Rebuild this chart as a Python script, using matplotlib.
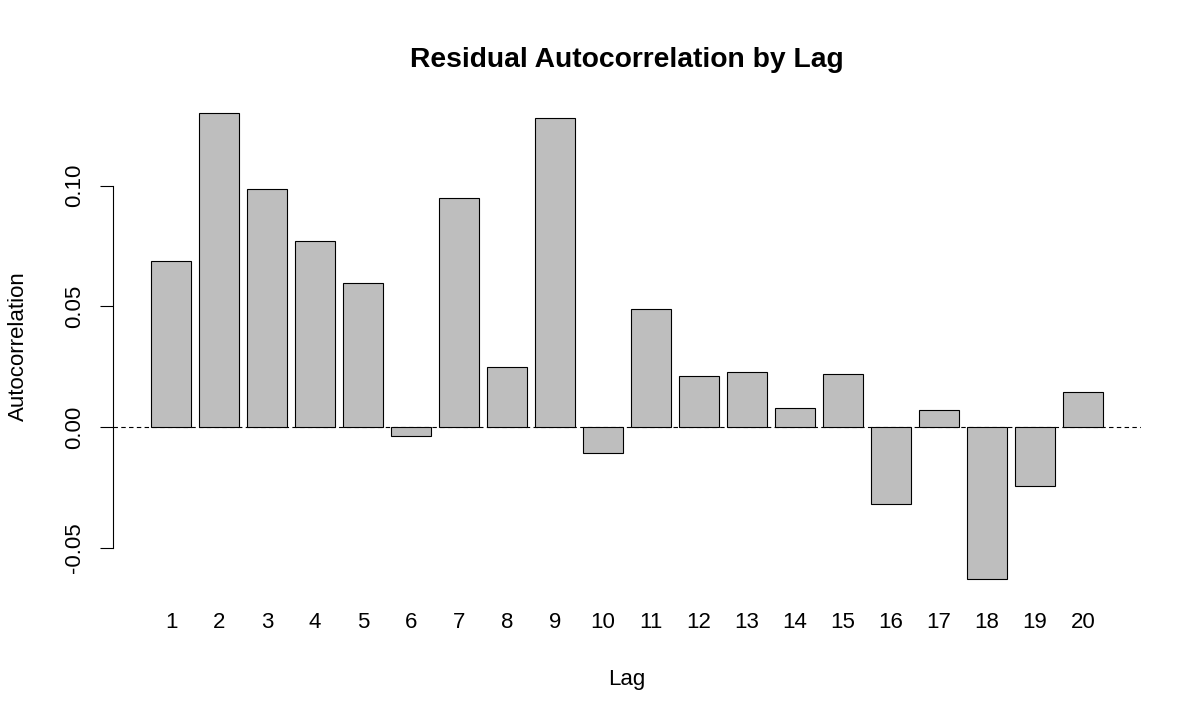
import numpy as np
import matplotlib
matplotlib.use('Agg')
import matplotlib.pyplot as plt

plt.rcParams['font.family'] = ['Liberation Sans', 'DejaVu Sans']

lags = list(range(1, 21))
acf = [0.0689, 0.1303, 0.0988, 0.0772, 0.0598, -0.0037, 0.0950, 0.0249, 0.1282, -0.0108,
       0.0490, 0.0212, 0.0228, 0.0079, 0.0220, -0.0320, 0.0071, -0.0631, -0.0245, 0.0145]
yticks = [-0.05, 0.00, 0.05, 0.10]

W, H = 1200, 720
fig = plt.figure(figsize=(W / 100, H / 100), dpi=100)
ax = fig.add_axes([113 / W, 1 - 598 / H, 1028 / W, 504 / H])

# R barplot geometry: width 1, space 0.2
x = 0.2 + np.arange(len(lags)) * 1.2 + 0.5
ax.bar(x, acf, width=1.0, color='#bebebe', edgecolor='black', linewidth=0.8, zorder=2)
ax.axhline(0, color='black', lw=0.8, ls=(0, (4, 3)), zorder=1)

lo, hi = min(min(acf), 0), max(acf)
pad = 0.04 * (hi - lo)
ax.set_ylim(lo - pad, hi + pad)
ax.set_xlim(0.2 - 0.952, 24.0 + 0.952)

for s in ['top', 'right', 'bottom']:
    ax.spines[s].set_visible(False)
ax.spines['left'].set_bounds(yticks[0], yticks[-1])
ax.spines['left'].set_linewidth(0.8)
ax.set_yticks(yticks)
ax.set_yticklabels(['-0.05', '0.00', '0.05', '0.10'], rotation=90, va='center', fontsize=16)
ax.tick_params(axis='y', length=9.4, width=0.8, pad=11)
ax.set_xticks(x)
ax.set_xticklabels([str(l) for l in lags], fontsize=16)
ax.tick_params(axis='x', length=0, pad=10)

fig.text(627 / W, 1 - 67 / H, 'Residual Autocorrelation by Lag', fontsize=20.3,
         fontweight='bold', ha='center', va='baseline')
fig.text(627 / W, 1 - 685 / H, 'Lag', fontsize=16, ha='center', va='baseline')
fig.text(18 / W, 1 - 346 / H, 'Autocorrelation', fontsize=16, rotation=90,
         ha='center', va='center')

fig.savefig('out.png', dpi=100)
